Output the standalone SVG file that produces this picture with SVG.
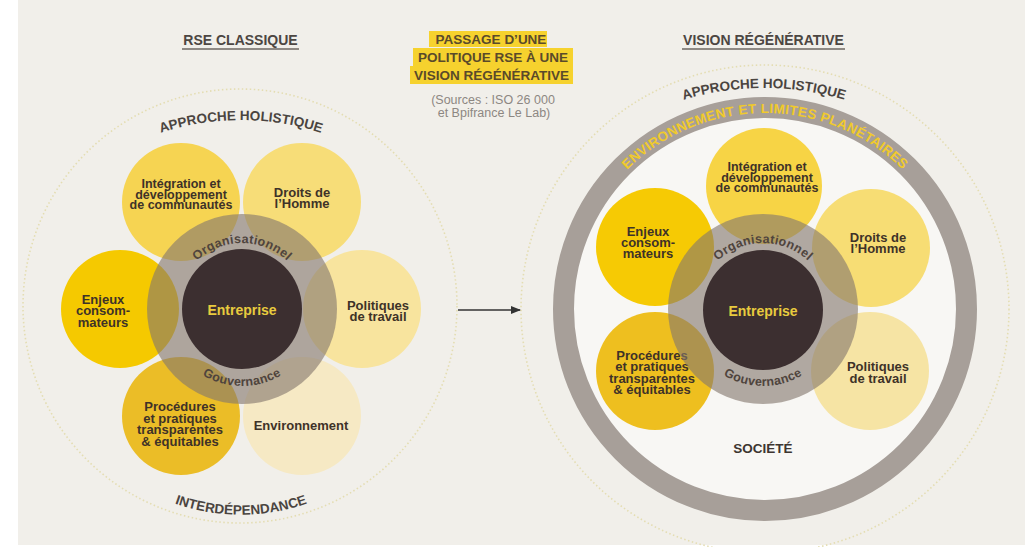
<svg xmlns="http://www.w3.org/2000/svg" xmlns:xlink="http://www.w3.org/1999/xlink" width="1025" height="547" viewBox="0 0 1025 547">
<style>
text{font-family:"Liberation Sans",Arial,sans-serif;font-weight:bold}
.pt{font-size:13px;fill:#3e3228;text-anchor:middle}
.pts{font-size:12.5px;fill:#3e3228;text-anchor:middle}
.ent{font-size:14px;fill:#e8cb3e;text-anchor:middle}
.ring{font-size:12.5px;fill:#4f443d;letter-spacing:0.3px}
.arc{font-size:13.5px;fill:#4a4440}
.ttl{font-size:14px;fill:#4c4642;text-anchor:middle}
.hl{font-size:13.5px;fill:#5a4a2a;text-anchor:middle}
.src{font-size:12.5px;fill:#8d8782;text-anchor:middle;font-weight:normal}
.dot{fill:none;stroke:#e4ddb2;stroke-width:1.6;stroke-dasharray:1.5 2.5}
.gring{fill:#85776d;fill-opacity:0.62}
.dark{fill:#3c2f30}
</style>
<defs>
<marker id="ah" viewBox="0 0 10 10" refX="9" refY="5" markerWidth="10" markerHeight="10" markerUnits="userSpaceOnUse" orient="auto">
<path d="M0,1 L10,5 L0,9 z" fill="#333"/>
</marker>
<path id="lTop" d="M41,214 A260,260 0 0 1 441,214"/>
<path id="lBot" d="M91,447 A200,200 0 0 0 391,447"/>
<path id="lOrg" d="M176,309 A66,66 0 0 1 308,309"/>
<path id="lGov" d="M165,309 A77,77 0 0 0 319,309"/>
<path id="rTop" d="M544,195.4 A279,279 0 0 1 984,195.4"/>
<path id="rEnv" d="M569,309 A196,196 0 0 1 961,309"/>
<path id="rOrg" d="M697,309 A66,66 0 0 1 829,309"/>
<path id="rGov" d="M686,309 A77,77 0 0 0 840,309"/>
</defs>
<rect x="0" y="0" width="1025" height="547" fill="#ffffff"/>
<rect x="18" y="0" width="1007" height="545" fill="#f1efea"/>

<g id="title-center">
<rect x="429" y="31" width="118" height="16" fill="#f6d22e"/>
<rect x="413" y="48" width="160" height="18" fill="#f6d22e"/>
<rect x="410" y="66" width="163" height="18" fill="#f6d22e"/>
<text class="hl" x="491" y="43.5">PASSAGE D’UNE</text>
<text class="hl" x="493" y="62">POLITIQUE RSE À UNE</text>
<text class="hl" x="491.5" y="80">VISION RÉGÉNÉRATIVE</text>
<text class="src" x="493" y="104">(Sources : ISO 26 000</text>
<text class="src" x="494" y="117">et Bpifrance Le Lab)</text>
</g>

<g id="title-left">
<text class="ttl" x="240.5" y="45">RSE CLASSIQUE</text>
<line x1="182" y1="49" x2="299" y2="49" stroke="#6d6762" stroke-width="1.5"/>
</g>
<g id="title-right">
<text class="ttl" x="763.5" y="45">VISION RÉGÉNÉRATIVE</text>
<line x1="682" y1="49" x2="845" y2="49" stroke="#6d6762" stroke-width="1.5"/>
</g>

<!-- LEFT: RSE classique -->
<g id="left-boundary">
<circle class="dot" cx="240" cy="306" r="217"/>
<text class="arc"><textPath xlink:href="#lTop" href="#lTop" startOffset="50%" text-anchor="middle">APPROCHE HOLISTIQUE</textPath></text>
<text class="arc"><textPath xlink:href="#lBot" href="#lBot" startOffset="50%" text-anchor="middle">INTERDÉPENDANCE</textPath></text>
</g>
<g id="left-droits">
<circle cx="302" cy="202" r="59" fill="#f7dd78"/>
<text class="pt" x="302" y="197">Droits de<tspan x="302" dy="11">l’Homme</tspan></text>
</g>
<g id="left-politiques">
<circle cx="362" cy="309" r="59" fill="#f8e49e"/>
<text class="pt" x="378" y="309.5">Politiques<tspan x="378" dy="11.5">de travail</tspan></text>
</g>
<g id="left-environnement">
<circle cx="302" cy="416" r="59" fill="#f6e9c4"/>
<text class="pt" x="301" y="429.5">Environnement</text>
</g>
<g id="left-procedures">
<circle cx="181" cy="416" r="59" fill="#ebbd27"/>
<text class="pt" x="180" y="411">Procédures<tspan x="180" dy="11.5">et pratiques</tspan><tspan x="180" dy="11.5">transparentes</tspan><tspan x="180" dy="11.5">&amp; équitables</tspan></text>
</g>
<g id="left-integration">
<circle cx="181" cy="202" r="59" fill="#f6d452"/>
<text class="pts" x="181" y="188">Intégration et<tspan x="181" dy="10.5">développement</tspan><tspan x="181" dy="10.5">de communautés</tspan></text>
</g>
<g id="left-enjeux">
<circle cx="120" cy="309" r="59" fill="#f5c900"/>
<text class="pt" x="103" y="304">Enjeux<tspan x="103" dy="11.3">consom-</tspan><tspan x="103" dy="11.3">mateurs</tspan></text>
</g>
<g id="left-entreprise">
<circle class="gring" cx="242" cy="309" r="95"/>
<circle class="dark" cx="242" cy="309" r="60"/>
<text class="ent" x="242" y="315">Entreprise</text>
<text class="ring"><textPath xlink:href="#lOrg" href="#lOrg" startOffset="50%" text-anchor="middle">Organisationnel</textPath></text>
<text class="ring"><textPath xlink:href="#lGov" href="#lGov" startOffset="50%" text-anchor="middle">Gouvernance</textPath></text>
</g>

<!-- RIGHT: Vision régénérative -->
<g id="right-boundary">
<circle class="dot" cx="765" cy="309" r="244"/>
<text class="arc"><textPath xlink:href="#rTop" href="#rTop" startOffset="50%" text-anchor="middle">APPROCHE HOLISTIQUE</textPath></text>
</g>
<g id="right-environnement">
<circle cx="765" cy="309" r="201.5" fill="#f8f7f4" stroke="#a79f99" stroke-width="21"/>
<text font-size="13.5" fill="#f0ca2c" letter-spacing="0.3"><textPath xlink:href="#rEnv" href="#rEnv" startOffset="50%" text-anchor="middle">ENVIRONNEMENT ET LIMITES PLANÉTAIRES</textPath></text>
</g>
<g id="right-societe">
<text x="763" y="453" font-size="13.5" fill="#3d3530" text-anchor="middle">SOCIÉTÉ</text>
</g>
<g id="right-droits">
<circle cx="871" cy="248" r="59" fill="#f7dd74"/>
<text class="pt" x="878" y="241.5">Droits de<tspan x="878" dy="11">l’Homme</tspan></text>
</g>
<g id="right-politiques">
<circle cx="870" cy="371" r="59" fill="#f6e4a4"/>
<text class="pt" x="878" y="371">Politiques<tspan x="878" dy="11.5">de travail</tspan></text>
</g>
<g id="right-procedures">
<circle cx="655" cy="371" r="59" fill="#eebf1f"/>
<text class="pt" x="652" y="359.5">Procédures<tspan x="652" dy="11.5">et pratiques</tspan><tspan x="652" dy="11.5">transparentes</tspan><tspan x="652" dy="11.5">&amp; équitables</tspan></text>
</g>
<g id="right-enjeux">
<circle cx="655" cy="247" r="59" fill="#f6ca04"/>
<text class="pt" x="648" y="236">Enjeux<tspan x="648" dy="11">consom-</tspan><tspan x="648" dy="11">mateurs</tspan></text>
</g>
<g id="right-integration">
<circle cx="764" cy="186" r="58" fill="#f7d445"/>
<text class="pts" x="767" y="171">Intégration et<tspan x="767" dy="10.5">développement</tspan><tspan x="767" dy="10.5">de communautés</tspan></text>
</g>
<g id="right-entreprise">
<circle class="gring" cx="763" cy="309" r="95"/>
<circle class="dark" cx="763" cy="310" r="60"/>
<text class="ent" x="763" y="315.5">Entreprise</text>
<text class="ring"><textPath xlink:href="#rOrg" href="#rOrg" startOffset="50%" text-anchor="middle">Organisationnel</textPath></text>
<text class="ring"><textPath xlink:href="#rGov" href="#rGov" startOffset="50%" text-anchor="middle">Gouvernance</textPath></text>
</g>

<g id="connectors">
<line x1="458" y1="310" x2="520" y2="310" stroke="#333" stroke-width="1.5" marker-end="url(#ah)"/>
</g>
</svg>
